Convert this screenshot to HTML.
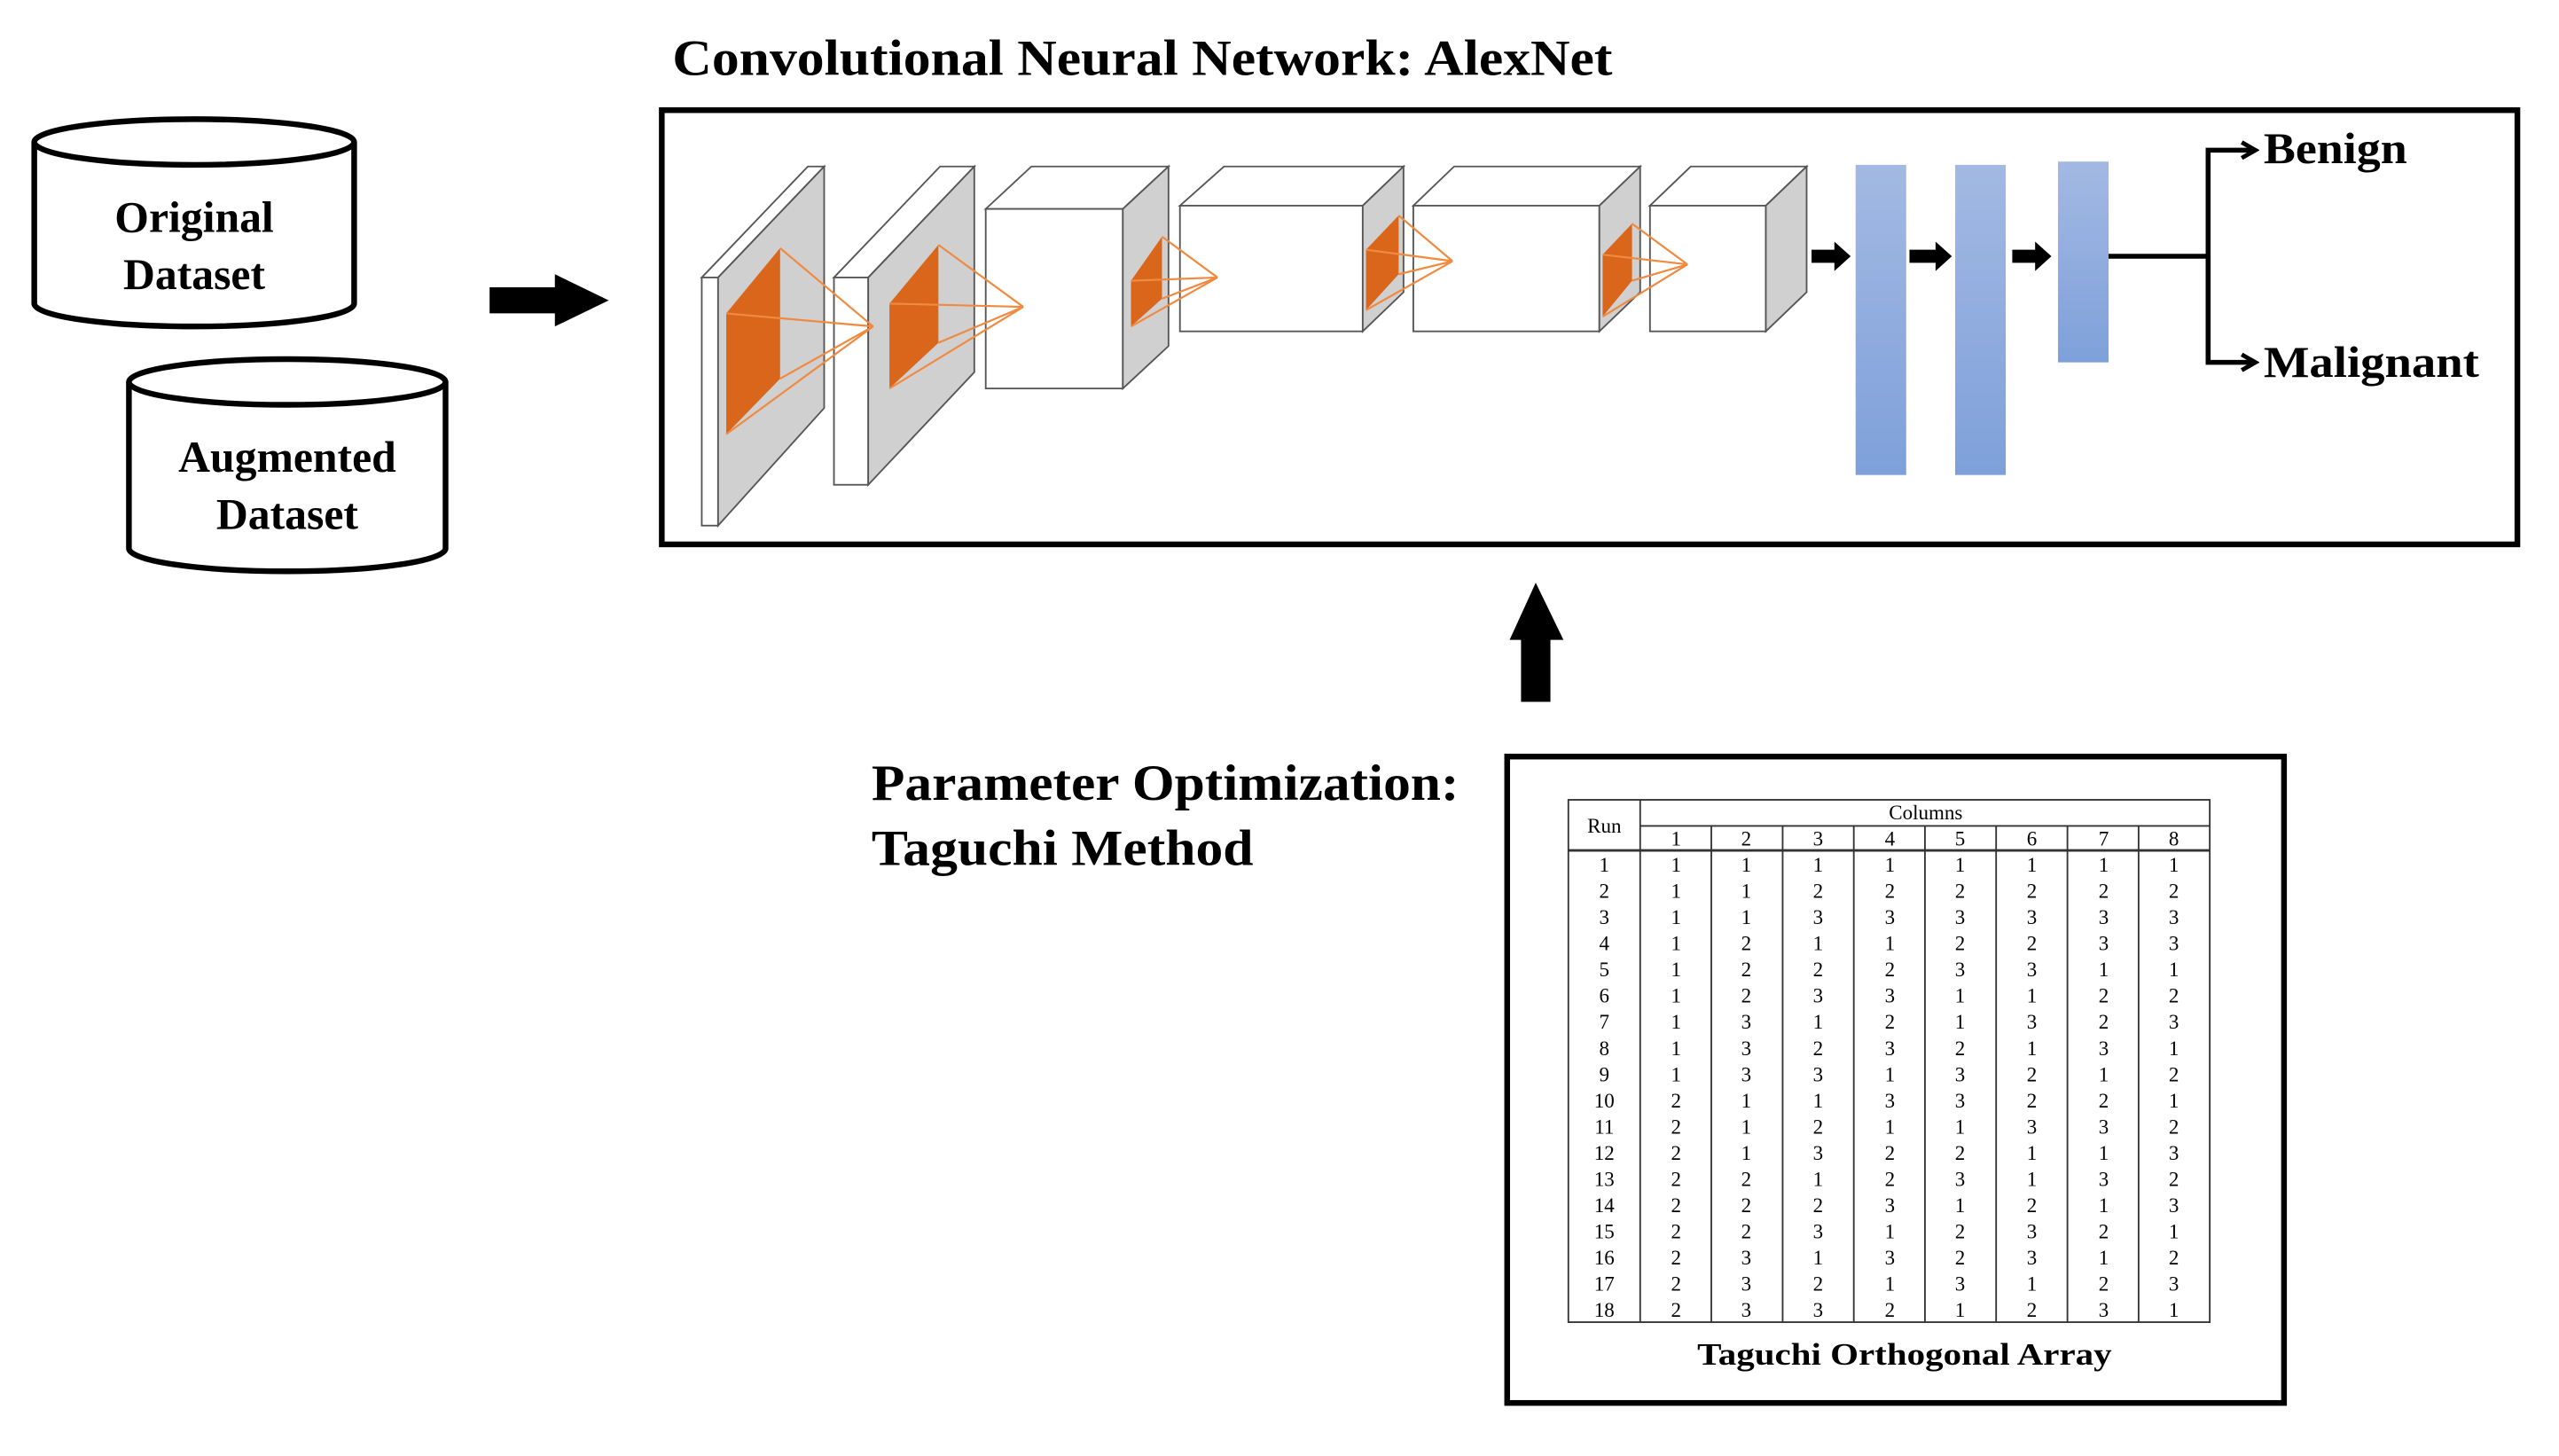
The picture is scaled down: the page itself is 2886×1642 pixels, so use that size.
<!DOCTYPE html>
<html><head><meta charset="utf-8"><style>
html,body{margin:0;padding:0;background:#fff;}
svg{display:block;}
text{font-family:"Liberation Serif",serif;font-weight:bold;fill:#000;}
.t{font-weight:normal;font-size:12.5px;text-anchor:middle;}
</style></head><body>
<svg width="2886" height="1642" viewBox="0 0 1568 892" preserveAspectRatio="none" xmlns="http://www.w3.org/2000/svg">
<defs>
<linearGradient id="bl" x1="0" y1="0" x2="0" y2="1"><stop offset="0" stop-color="#a3b9e3"/><stop offset="1" stop-color="#7ea0da"/></linearGradient>
<marker id="ah" viewBox="0 0 10 10" refX="8" refY="5" markerWidth="4" markerHeight="4" orient="auto"><path d="M1,1 L8,5 L1,9" fill="none" stroke="#000" stroke-width="2.2"/></marker>
</defs>
<rect width="1568" height="892" fill="#fff"/>
<text x="412" y="46" font-size="31" textLength="576" lengthAdjust="spacingAndGlyphs">Convolutional Neural Network: AlexNet</text>
<rect x="405.5" y="67.5" width="1137" height="266" fill="none" stroke="#000" stroke-width="3.5"/>

<g fill="#fff" stroke="#000" stroke-width="3.5">
<path d="M21,87 L21,186 A98,14 0 0 0 217,186 L217,87"/>
<ellipse cx="119" cy="87" rx="98" ry="14"/>
<path d="M79,234 L79,336 A97,14 0 0 0 273,336 L273,234"/>
<ellipse cx="176" cy="234" rx="97" ry="14"/>
</g>
<text x="119" y="142" font-size="27" text-anchor="middle">Original</text>
<text x="119" y="177" font-size="27" text-anchor="middle">Dataset</text>
<text x="176" y="289" font-size="27" text-anchor="middle">Augmented</text>
<text x="176" y="324" font-size="27" text-anchor="middle">Dataset</text>

<polygon points="300,176 340,176 340,168 373,184 340,200 340,192 300,192" fill="#000"/>
<polygon points="932,430 932,392 925,392 941,357 958,392 950,392 950,430" fill="#000"/>

<g stroke="#555" stroke-width="1">
<polygon points="430,170 495,102 505,102 440,170" fill="#fff"/>
<rect x="430" y="170" width="10" height="152" fill="#fff"/>
<polygon points="440,170 505,102 505,250 440,322" fill="#d0d0d0"/>
<polygon points="511,170 576,102 597,102 532,170" fill="#fff"/>
<rect x="511" y="170" width="21" height="127" fill="#fff"/>
<polygon points="532,170 597,102 597,228 532,297" fill="#d0d0d0"/>
<polygon points="604,128 632,102 716,102 688,128" fill="#fff"/>
<rect x="604" y="128" width="84" height="110" fill="#fff"/>
<polygon points="688,128 716,102 716,212 688,238" fill="#d0d0d0"/>
<polygon points="723,126 750,102 860,102 835,126" fill="#fff"/>
<rect x="723" y="126" width="112" height="77" fill="#fff"/>
<polygon points="835,126 860,102 860,179 835,203" fill="#d0d0d0"/>
<polygon points="866,126 891,102 1005,102 980,126" fill="#fff"/>
<rect x="866" y="126" width="114" height="77" fill="#fff"/>
<polygon points="980,126 1005,102 1005,179 980,203" fill="#d0d0d0"/>
<polygon points="1011,126 1036,102 1107,102 1082,126" fill="#fff"/>
<rect x="1011" y="126" width="71" height="77" fill="#fff"/>
<polygon points="1082,126 1107,102 1107,179 1082,203" fill="#d0d0d0"/>
</g>
<g fill="#d9661b">
<polygon points="445,192 478,152 478,232 445,266"/>
<polygon points="545,186 575,150 575,210 545,238"/>
<polygon points="693,172 712,145 712,183 693,200"/>
<polygon points="837,153 857,132 857,168 837,190"/>
<polygon points="982,156 1000,137 1000,172 982,194"/>
</g>
<g stroke="#f08a40" stroke-width="1.2" fill="none">
<path d="M445,192 L535,200 M478,152 L535,200 M478,232 L535,200 M445,266 L535,200"/>
<path d="M545,186 L627,188 M575,150 L627,188 M575,210 L627,188 M545,238 L627,188"/>
<path d="M693,172 L746,170 M712,145 L746,170 M712,183 L746,170 M693,200 L746,170"/>
<path d="M837,153 L890,160 M857,132 L890,160 M857,168 L890,160 M837,190 L890,160"/>
<path d="M982,156 L1034,162 M1000,137 L1034,162 M1000,172 L1034,162 M982,194 L1034,162"/>
</g>
<g fill="#000">
<polygon points="1110,153 1124,153 1124,148 1134,157 1124,166 1124,161 1110,161"/>
<polygon points="1170,153 1186,153 1186,148 1196,157 1186,166 1186,161 1170,161"/>
<polygon points="1233,153 1247,153 1247,148 1257,157 1247,166 1247,161 1233,161"/>
</g>
<rect x="1137" y="101" width="31" height="190" fill="url(#bl)"/>
<rect x="1198" y="101" width="31" height="190" fill="url(#bl)"/>
<rect x="1261" y="99" width="31" height="123" fill="url(#bl)"/>
<g stroke="#000" stroke-width="3" fill="none">
<path d="M1292,157 L1353,157"/>
<path d="M1353,222 L1353,92 L1382,92" marker-end="url(#ah)"/>
<path d="M1353,157 L1353,222 L1382,222" marker-end="url(#ah)"/>
</g>
<text x="1387" y="100" font-size="27" textLength="88" lengthAdjust="spacingAndGlyphs">Benign</text>
<text x="1387" y="231" font-size="27" textLength="132" lengthAdjust="spacingAndGlyphs">Malignant</text>

<text x="534" y="490" font-size="31" textLength="360" lengthAdjust="spacingAndGlyphs">Parameter Optimization:</text>
<text x="534" y="530" font-size="31" textLength="234" lengthAdjust="spacingAndGlyphs">Taguchi Method</text>
<rect x="923.5" y="463.5" width="476" height="396" fill="none" stroke="#000" stroke-width="3.5"/>

<g stroke="#333" stroke-width="1" fill="none">
<rect x="961" y="490" width="393" height="320"/>
<line x1="1005" y1="490" x2="1005" y2="810"/>
<line x1="1005" y1="506" x2="1354" y2="506"/>
<line x1="961" y1="521" x2="1354" y2="521" stroke-width="1.5"/>
<line x1="1048.6" y1="506" x2="1048.6" y2="810"/>
<line x1="1092.3" y1="506" x2="1092.3" y2="810"/>
<line x1="1135.9" y1="506" x2="1135.9" y2="810"/>
<line x1="1179.5" y1="506" x2="1179.5" y2="810"/>
<line x1="1223.1" y1="506" x2="1223.1" y2="810"/>
<line x1="1266.8" y1="506" x2="1266.8" y2="810"/>
<line x1="1310.4" y1="506" x2="1310.4" y2="810"/>
</g>
<text class="t" x="983" y="510">Run</text>
<text class="t" x="1180" y="502">Columns</text>
<g>
<text class="t" x="1027" y="518">1</text><text class="t" x="1070" y="518">2</text><text class="t" x="1114" y="518">3</text><text class="t" x="1158" y="518">4</text><text class="t" x="1201" y="518">5</text><text class="t" x="1245" y="518">6</text><text class="t" x="1289" y="518">7</text><text class="t" x="1332" y="518">8</text>
</g>
<g id="rows"></g>
<text x="1167" y="836" font-size="19" text-anchor="middle" textLength="254" lengthAdjust="spacingAndGlyphs">Taguchi Orthogonal Array</text>
</svg>
<script>
var d=["11111111","11222222","11333333","12112233","12223311","12331122","13121323","13232131","13313212","21133221","21211332","21322113","22123132","22231213","22312321","23132312","23213123","23321231"];
var xs=[983,1027,1070,1114,1158,1201,1245,1289,1332];
var g=document.getElementById("rows"),h="";
for(var i=0;i<18;i++){var y=534+i*16.05;h+='<text class="t" x="983" y="'+y+'">'+(i+1)+'</text>';
for(var j=0;j<8;j++)h+='<text class="t" x="'+xs[j+1]+'" y="'+y+'">'+d[i][j]+'</text>';}
g.innerHTML=h;
</script>
</body></html>
